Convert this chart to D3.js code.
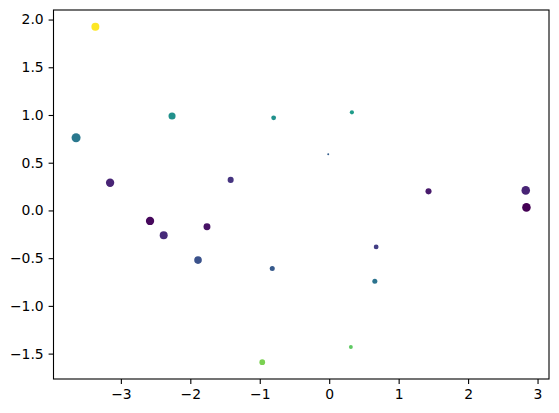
<!DOCTYPE html>
<html>
<head>
<meta charset="utf-8">
<script src="https://cdn.jsdelivr.net/npm/d3@7"></script>
<style>
html,body{margin:0;padding:0;background:#fff;}
svg{display:block;}
text{font-family:"DejaVu Sans",sans-serif;}
</style>
</head>
<body>
<svg id="chart" width="559" height="413"></svg>
<script>
// Data
const xs = [-3.367, -3.645, -3.155, -2.263, -0.800, -1.419, 0.327, -0.014, 1.430, 2.830, 2.840, -2.580, -2.383, -1.760, -1.889, -0.820, -0.964, 0.676, 0.657, 0.312];
const ys = [1.924, 0.761, 0.290, 0.990, 0.970, 0.320, 1.028, 0.589, 0.200, 0.210, 0.032, -0.110, -0.260, -0.170, -0.520, -0.608, -1.590, -0.382, -0.741, -1.430];
const colorVals = [1.00, 0.40, 0.10, 0.50, 0.50, 0.15, 0.55, 0.30, 0.07, 0.10, 0.00, 0.02, 0.12, 0.05, 0.25, 0.28, 0.80, 0.18, 0.38, 0.75];
const sizes = [33, 42, 36, 26, 12, 19, 9, 2, 19, 38, 38, 36, 33, 25, 30, 13, 17, 12, 13, 8];
const xTicks = [-3, -2, -1, 0, 1, 2, 3];
const yTicks = [-1.5, -1.0, -0.5, 0.0, 0.5, 1.0, 1.5, 2.0];

const mLeft = 53.5, mRight = 549, mTop = 10, mBottom = 379;
const svg = d3.select("#chart");

const x = d3.scaleLinear().domain([-3.970, 3.165]).range([mLeft, mRight]);
const y = d3.scaleLinear().domain([-1.766, 2.100]).range([mBottom, mTop]);
const r = d3.scaleSqrt().domain([0, 100]).range([0, 10 * 100 / 72 / 2]);
const color = d3.scaleSequential(d3.interpolateViridis).domain([0, 1]);

const pts = xs.map((v, i) => ({x: v, y: ys[i], c: colorVals[i], s: sizes[i]}));

svg.append("g").selectAll("circle").data(pts).join("circle")
  .attr("cx", d => x(d.x))
  .attr("cy", d => y(d.y))
  .attr("r", d => r(d.s))
  .attr("fill", d => color(d.c));

const fmtY = d3.format(".1f");
const xAxis = svg.append("g").attr("transform", `translate(0,${mBottom})`)
  .call(d3.axisBottom(x).tickValues(xTicks).tickFormat(d3.format("d")).tickSize(4.9).tickPadding(4.9));
const yAxis = svg.append("g").attr("transform", `translate(${mLeft},0)`)
  .call(d3.axisLeft(y).tickValues(yTicks).tickFormat(fmtY).tickSize(4.9).tickPadding(4.9));

[xAxis, yAxis].forEach(g => {
  g.select(".domain").remove();
  g.selectAll(".tick line").attr("stroke", "#000").attr("stroke-width", 1.1);
  g.selectAll(".tick text").attr("fill", "#000").style("font-size", "13.9px").style("font-family", "DejaVu Sans");
});

svg.append("rect")
  .attr("x", mLeft).attr("y", mTop)
  .attr("width", mRight - mLeft).attr("height", mBottom - mTop)
  .attr("fill", "none").attr("stroke", "#000").attr("stroke-width", 1.1);
</script>
</body>
</html>
